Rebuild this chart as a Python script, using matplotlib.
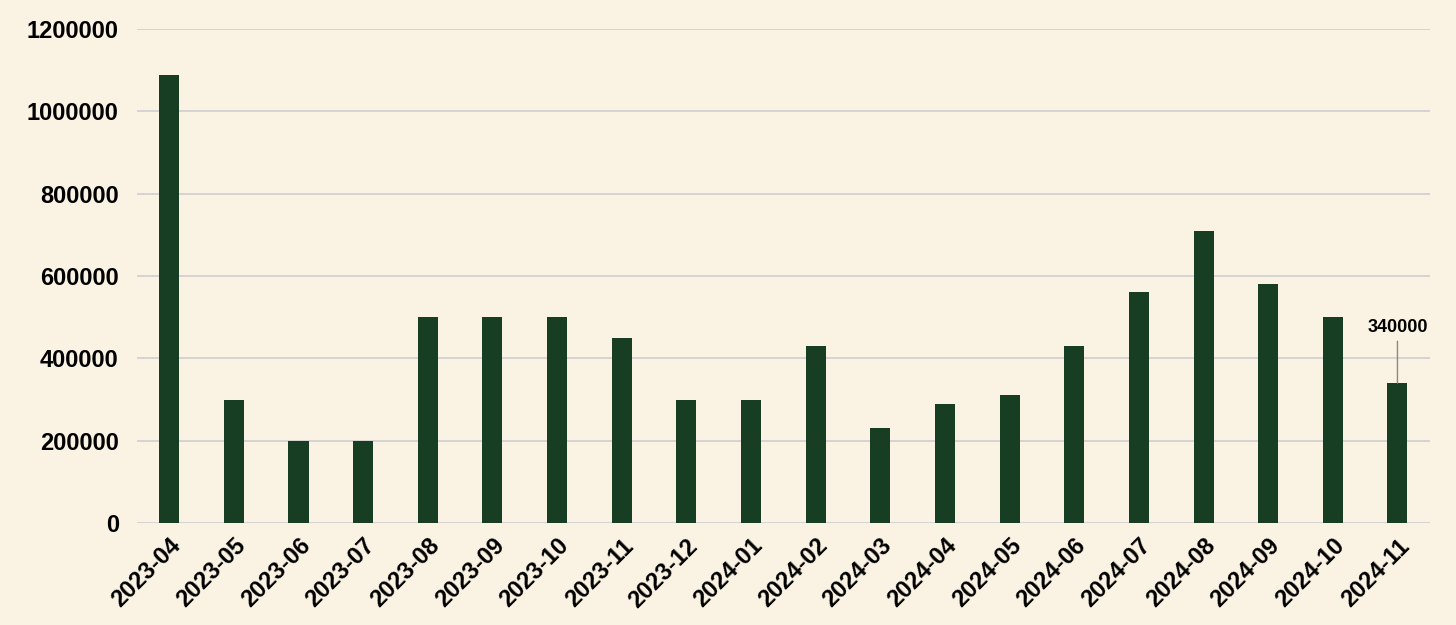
import matplotlib.pyplot as plt

months = ['2023-04', '2023-05', '2023-06', '2023-07', '2023-08', '2023-09',
          '2023-10', '2023-11', '2023-12', '2024-01', '2024-02', '2024-03',
          '2024-04', '2024-05', '2024-06', '2024-07', '2024-08', '2024-09',
          '2024-10', '2024-11']
values = [1088000, 300000, 200000, 200000, 500000, 500000,
          500000, 450000, 300000, 300000, 430000, 230000,
          290000, 310000, 430000, 560000, 710000, 580000,
          500000, 340000]
yticks = [0, 200000, 400000, 600000, 800000, 1000000, 1200000]

bg = '#faf2e2'
bar_color = '#173d22'

plt.rcParams['font.family'] = ['Liberation Sans', 'DejaVu Sans']

fig = plt.figure(figsize=(14.56, 6.25), dpi=100, facecolor=bg)
ax = fig.add_axes([0.094, 0.163, 0.888, 0.791])
ax.set_facecolor(bg)

x = range(len(months))
ax.bar(x, values, width=0.31, color=bar_color, zorder=3)

ax.set_xlim(-0.5, len(months) - 0.5)
ax.set_ylim(0, 1200000)
ax.set_yticks(yticks)
ax.set_yticklabels([str(v) for v in yticks], fontsize=17, fontweight='bold')
ax.set_xticks(list(x))
ax.set_xticklabels(months, rotation=45, ha='right', rotation_mode='anchor',
                   fontsize=17, fontweight='bold')
ax.tick_params(axis='y', length=0, pad=13)
ax.tick_params(axis='x', length=0, pad=8)

ax.grid(axis='y', color='#cfcfcf', linewidth=1.2, zorder=0)
for s in ax.spines.values():
    s.set_visible(False)

# label on the last bar
last = len(months) - 1
ax.annotate(str(values[last]), xy=(last, values[last]), xytext=(last, 455000),
            ha='center', va='bottom', fontsize=13, fontweight='bold',
            arrowprops=dict(arrowstyle='-', color='#888888', lw=1,
                            shrinkA=2, shrinkB=0),
            zorder=4)

fig.savefig('out.png', dpi=100, facecolor=bg)
